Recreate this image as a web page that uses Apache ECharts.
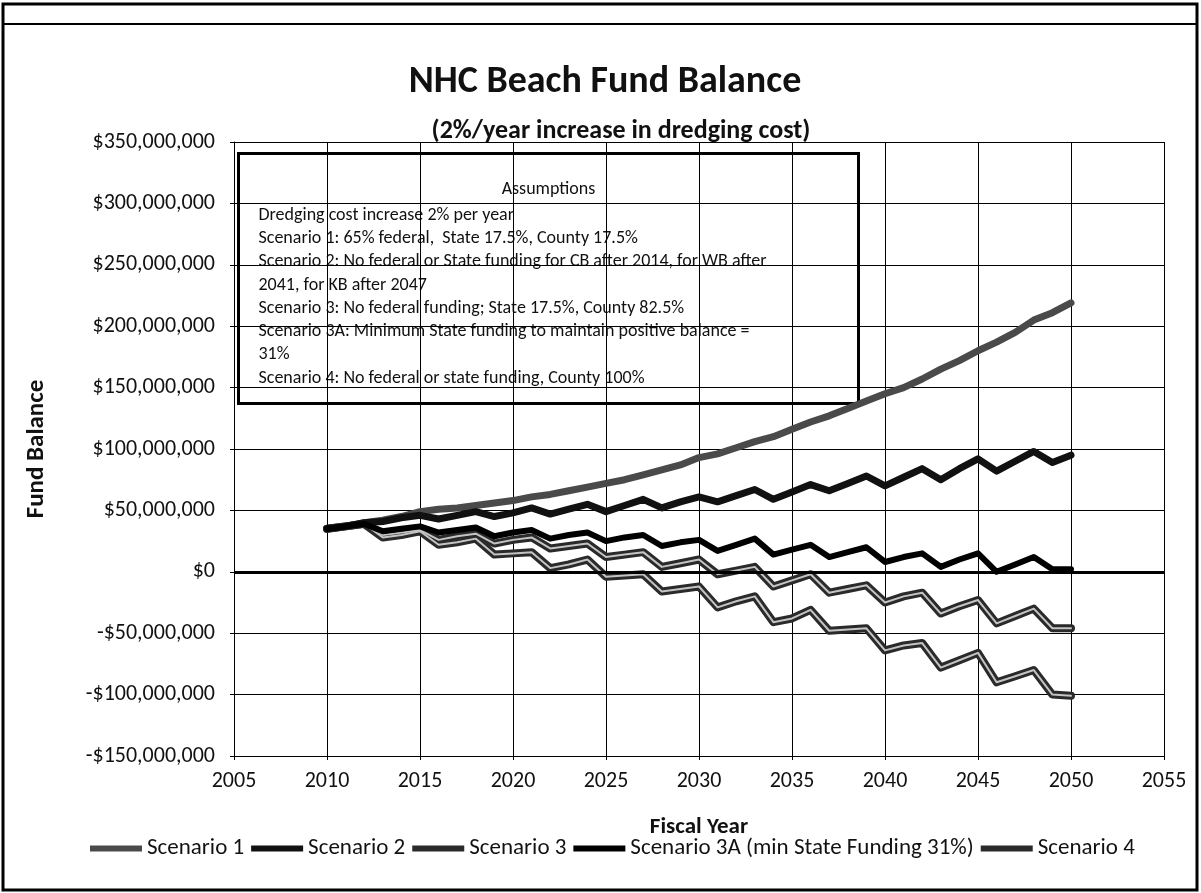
<!DOCTYPE html>
<html>
<head>
<meta charset="utf-8">
<title>NHC Beach Fund Balance</title>
<script src="https://cdn.jsdelivr.net/npm/echarts@6/dist/echarts.min.js"></script>
<style>
  html, body { margin: 0; padding: 0; background: #fff; }
  #chart { width: 1201px; height: 893px; }
</style>
</head>
<body>
<div id="chart"></div>
<script>
// fiscal years
var years = [2010, 2011, 2012, 2013, 2014, 2015, 2016, 2017, 2018, 2019,
  2020, 2021, 2022, 2023, 2024, 2025, 2026, 2027, 2028, 2029,
  2030, 2031, 2032, 2033, 2034, 2035, 2036, 2037, 2038, 2039,
  2040, 2041, 2042, 2043, 2044, 2045, 2046, 2047, 2048, 2049, 2050];

// fund balance, millions of dollars
var scenario1 = [35, 37, 40, 42, 45, 49, 51, 52, 54, 56,
  58, 61, 63, 66, 69, 72, 75, 79, 83, 87,
  93, 96, 101, 106, 110, 116, 122, 127, 133, 139,
  145, 150, 157, 165, 172, 180, 187, 195, 205, 211, 219];
var scenario2 = [35, 37, 40, 41, 44, 46, 43, 46, 49, 45,
  48, 52, 47, 51, 55, 49, 54, 59, 52, 57,
  61, 57, 62, 67, 59, 65, 71, 66, 72, 78,
  70, 77, 84, 75, 84, 92, 82, 90, 98, 89, 95];
var scenario3 = [35, 37, 39, 30, 32, 34, 26, 29, 31, 23,
  26, 28, 19, 21, 23, 12, 14, 16, 4, 7,
  10, -2, 1, 4, -12, -7, -2, -17, -14, -11,
  -25, -20, -17, -34, -28, -23, -42, -36, -30, -46, -46];
var scenario3A = [35, 37, 39, 33, 35, 37, 32, 34, 36, 29,
  32, 34, 27, 30, 32, 25, 28, 30, 21, 24,
  26, 17, 22, 27, 14, 18, 22, 12, 16, 20,
  8, 12, 15, 4, 10, 15, 0, 6, 12, 2, 2];
var scenario4 = [35, 37, 39, 28, 30, 33, 22, 24, 27, 14,
  15, 16, 3, 6, 10, -4, -3, -2, -16, -14,
  -12, -29, -24, -20, -41, -38, -31, -48, -47, -46,
  -64, -60, -58, -78, -72, -66, -90, -85, -80, -100, -101];

var seriesNames = ["Scenario 1", "Scenario 2", "Scenario 3",
  "Scenario 3A (min State Funding 31%)", "Scenario 4"];

var assumptions = [
  "Dredging cost increase 2% per year",
  "Scenario 1: 65% federal,  State 17.5%, County 17.5%",
  "Scenario 2: No federal or State funding for CB after 2014, for WB after",
  "2041, for KB after 2047",
  "Scenario 3: No federal funding; State 17.5%, County 82.5%",
  "Scenario 3A: Minimum State funding to maintain positive balance =",
  "31%",
  "Scenario 4: No federal or state funding, County 100%"
];

var FONT = "Carlito, 'Liberation Sans Narrow', 'Open Sans', sans-serif";

function pairs(vals) {
  return years.map(function (y, i) { return [y, vals[i]]; });
}

function money(v) {
  var s = Math.abs(v * 1000000).toLocaleString("en-US");
  return (v < 0 ? "-$" : "$") + s;
}

function lineSeries(name, vals, color, width, z) {
  return {
    name: name,
    type: "line",
    data: pairs(vals),
    symbol: "none",
    z: z,
    color: color,
    lineStyle: { color: color, width: width, join: "round", cap: "round" },
    emphasis: { disabled: true }
  };
}

var chart = echarts.init(document.getElementById("chart"));

var s1 = lineSeries(seriesNames[0], scenario1, "#4a4a4a", 7, 5);
s1.markLine = {
  silent: true,
  symbol: "none",
  label: { show: false },
  lineStyle: { color: "#000", width: 3, type: "solid" },
  data: [{ yAxis: 0 }]
};

var s3 = lineSeries(seriesNames[2], scenario3, "#2a2a2a", 8, 3);
var s3inner = lineSeries("s3inner", scenario3, "#c4c4c4", 2, 4);
var s4 = lineSeries(seriesNames[4], scenario4, "#2a2a2a", 8, 3);
var s4inner = lineSeries("s4inner", scenario4, "#c4c4c4", 2, 4);

var option = {
  backgroundColor: "#fff",
  animation: false,
  textStyle: { fontFamily: FONT },
  title: [
    {
      text: "NHC Beach Fund Balance",
      left: 600, top: 58, textAlign: "center",
      textStyle: { fontSize: 38, fontWeight: "bold", color: "#111", fontFamily: FONT }
    },
    {
      text: "(2%/year increase in dredging cost)",
      left: 616, top: 113, textAlign: "center",
      textStyle: { fontSize: 26, fontWeight: "bold", color: "#111", fontFamily: FONT }
    }
  ],
  grid: { left: 234, right: 37, top: 142, bottom: 137 },
  legend: {
    data: seriesNames,
    left: 85, top: 832,
    icon: "rect",
    itemWidth: 52, itemHeight: 6, itemGap: 7,
    textStyle: { fontSize: 23, color: "#111", fontFamily: FONT }
  },
  xAxis: {
    type: "value",
    min: 2005, max: 2055, interval: 5,
    name: "Fiscal Year",
    nameLocation: "middle",
    nameGap: 60,
    nameTextStyle: { fontSize: 23, fontWeight: "bold", color: "#111", fontFamily: FONT },
    axisLine: { show: true, onZero: false, lineStyle: { color: "#000", width: 1 } },
    axisTick: { show: true, length: 4, lineStyle: { color: "#000" } },
    axisLabel: { fontSize: 22, color: "#111", margin: 14, fontFamily: FONT,
      formatter: function (v) { return String(v); } },
    splitLine: { show: true, lineStyle: { color: "#000", width: 1 } }
  },
  yAxis: {
    type: "value",
    min: -150, max: 350, interval: 50,
    name: "Fund Balance",
    nameLocation: "middle",
    nameGap: 185,
    nameTextStyle: { fontSize: 25, fontWeight: "bold", color: "#111", fontFamily: FONT },
    axisLine: { show: true, lineStyle: { color: "#000", width: 1 } },
    axisTick: { show: true, length: 4, lineStyle: { color: "#000" } },
    axisLabel: { fontSize: 22, color: "#111", margin: 19, formatter: money, fontFamily: FONT },
    splitLine: { show: true, lineStyle: { color: "#000", width: 1 } }
  },
  series: [
    s1,
    lineSeries(seriesNames[1], scenario2, "#111", 7, 5),
    s3, s3inner,
    lineSeries(seriesNames[3], scenario3A, "#000", 6, 5),
    s4, s4inner
  ],
  graphic: [
    {
      type: "rect", z: 100,
      shape: { x: 3, y: 4, width: 1194, height: 886 },
      style: { fill: null, stroke: "#000", lineWidth: 3 }
    },
    {
      type: "line", z: 100,
      shape: { x1: 4, y1: 24, x2: 1196, y2: 24 },
      style: { stroke: "#000", lineWidth: 2 }
    },
    {
      type: "group", left: 237, top: 152, z: 100,
      children: [
        {
          type: "rect",
          shape: { x: 0, y: 0, width: 620, height: 250 },
          style: { fill: "#fff", stroke: "#000", lineWidth: 3 }
        },
        {
          type: "text",
          x: 310, y: 27,
          style: {
            text: "Assumptions", textAlign: "center",
            font: "18px " + FONT, fill: "#111"
          }
        },
        {
          type: "text",
          x: 20, y: 50,
          style: {
            text: assumptions.join("\n"),
            font: "18px " + FONT, fill: "#111",
            lineHeight: 23.3
          }
        }
      ]
    }
  ]
};

chart.setOption(option);
</script>
</body>
</html>
